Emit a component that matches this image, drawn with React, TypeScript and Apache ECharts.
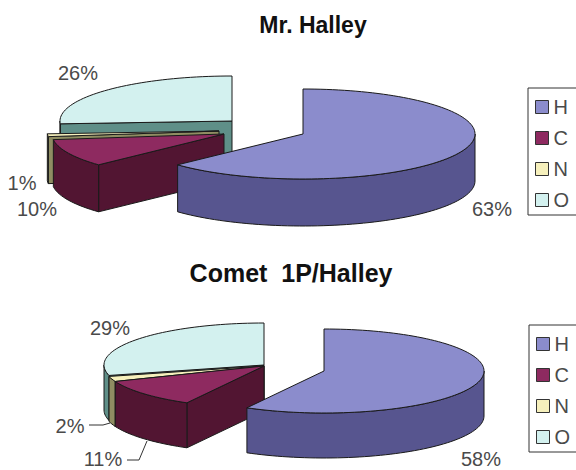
import React, { useEffect, useRef } from "react";
import * as echarts from "echarts";

const elements = ["H", "C", "N", "O"];
const mrHalleyValues = [63, 10, 1, 26];
const cometHalleyValues = [58, 11, 2, 29];
const titles = ["Mr. Halley", "Comet  1P/Halley"];

const topColors = ["#8b8ccc", "#8e2a60", "#f6f0bc", "#d3f1ef"];
const wallColors = ["#57558f", "#521532", "#8f8d62", "#5f8f88"];
const DARK = "#1a1a1a";
const TEXT = "#4a4a4a";
const FONT = '"Liberation Sans", Arial, sans-serif';

type Layout = {
  rx: number; ry: number; depth: number;
  centers: number[][];
  labels: number[][];
  leaders: (number[][] | null)[];
};

const mrLayout: Layout = {
  rx: 172, ry: 45, depth: 47,
  centers: [[303, 134], [224, 134], [219, 131], [232, 121]],
  labels: [[492, 209], [37, 209], [22, 183], [78, 73]],
  leaders: [null, null, null, null],
};
const cometLayout: Layout = {
  rx: 160, ry: 42, depth: 45,
  centers: [[324, 371], [264, 366], [264, 366], [264, 365]],
  labels: [[481, 459], [103, 459], [70, 426], [110, 328]],
  leaders: [null, [[127, 460], [139, 460], [147, 441]], [[89, 425], [103, 425], [110, 423]], null],
};

const rad = (d: number) => (d * Math.PI) / 180;

function makeRender(values: number[], idx: number, L: Layout) {
  return () => {
    const total = values.reduce((a, b) => a + b, 0);
    const before = values.slice(0, idx).reduce((a, b) => a + b, 0);
    const a0 = (before / total) * 360;
    const a1 = ((before + values[idx]) / total) * 360;
    const [cx, cy] = L.centers[idx];
    const pt = (a: number, dy = 0) => [
      cx + L.rx * Math.sin(rad(a)),
      cy - L.ry * Math.cos(rad(a)) + dy,
    ];
    const arc = (from: number, to: number, dy = 0) => {
      const out: number[][] = [];
      const n = Math.max(2, Math.ceil((to - from) / 2));
      for (let i = 0; i <= n; i++) out.push(pt(from + ((to - from) * i) / n, dy));
      return out;
    };
    const line = { stroke: DARK, lineWidth: 1, lineJoin: "round" };
    const children: any[] = [];
    const wall = (a: number) => {
      const p = pt(a);
      children.push({
        type: "polygon",
        shape: { points: [[cx, cy], p, [p[0], p[1] + L.depth], [cx, cy + L.depth]] },
        style: { fill: wallColors[idx], ...line },
      });
    };
    if (Math.sin(rad(a0)) < -1e-6) wall(a0);
    if (Math.sin(rad(a1)) > 1e-6) wall(a1);
    const w0 = Math.max(a0, 90);
    const w1 = Math.min(a1, 270);
    if (w1 > w0) {
      children.push({
        type: "polygon",
        shape: { points: [...arc(w0, w1), ...arc(w0, w1, L.depth).reverse()] },
        style: { fill: wallColors[idx], ...line },
      });
    }
    children.push({
      type: "polygon",
      shape: { points: [[cx, cy], ...arc(a0, a1)] },
      style: { fill: topColors[idx], ...line },
    });
    const leader = L.leaders[idx];
    if (leader) {
      children.push({
        type: "polyline",
        shape: { points: leader },
        style: { fill: "none", stroke: "#333", lineWidth: 1 },
      });
    }
    children.push({
      type: "text",
      style: {
        text: `${values[idx]}%`,
        x: L.labels[idx][0],
        y: L.labels[idx][1],
        fill: TEXT,
        font: `20px ${FONT}`,
        align: "center",
        verticalAlign: "middle",
      },
    });
    return { type: "group", children };
  };
}

function pieSeries(values: number[], L: Layout) {
  // back to front: O, N, C, H
  return [3, 2, 1, 0].map((idx) => ({
    type: "custom",
    name: elements[idx],
    coordinateSystem: "none",
    silent: true,
    itemStyle: { color: topColors[idx] },
    data: [[values[idx]]],
    renderItem: makeRender(values, idx, L),
  }));
}

function legendAt(left: number, top: number) {
  return {
    data: elements,
    orient: "vertical",
    left,
    top,
    padding: [9, 22, 5, 7],
    itemWidth: 13,
    itemHeight: 13,
    itemGap: 11,
    icon: "rect",
    selectedMode: false,
    borderColor: "#333",
    borderWidth: 1,
    backgroundColor: "#fff",
    itemStyle: { borderColor: "#333", borderWidth: 1 },
    textStyle: { color: TEXT, fontFamily: FONT, fontSize: 20, lineHeight: 20 },
  };
}

export default function App() {
  const ref = useRef<HTMLDivElement>(null);
  useEffect(() => {
    const chart = echarts.init(ref.current!, undefined, { renderer: "svg" });
    chart.setOption({
      animation: false,
      backgroundColor: "#fff",
      title: [
        {
          text: titles[0], left: 308, top: 8, textAlign: "center",
          textStyle: { fontFamily: FONT, fontSize: 23, fontWeight: "bold", color: "#111" },
        },
        {
          text: titles[1], left: 286, top: 255, textAlign: "center",
          textStyle: { fontFamily: FONT, fontSize: 25, fontWeight: "bold", color: "#111" },
        },
      ],
      legend: [legendAt(528, 88), legendAt(529, 325)],
      series: [...pieSeries(mrHalleyValues, mrLayout), ...pieSeries(cometHalleyValues, cometLayout)],
    });
    return () => chart.dispose();
  }, []);
  return (
    <div
      ref={ref}
      style={{ position: "absolute", left: 0, top: 0, width: 576, height: 470 }}
    />
  );
}
